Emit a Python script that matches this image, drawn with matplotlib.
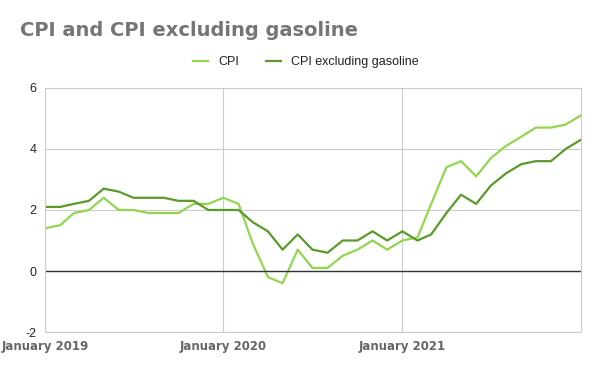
import numpy as np
import pandas as pd
import matplotlib.pyplot as plt

# monthly, January 2019 to January 2022
months = pd.date_range('2019-01-01', '2022-01-01', freq='MS')
cpi = [1.4, 1.5, 1.9, 2.0, 2.4, 2.0, 2.0, 1.9, 1.9, 1.9, 2.2, 2.2,
       2.4, 2.2, 0.9, -0.2, -0.4, 0.7, 0.1, 0.1, 0.5, 0.7, 1.0, 0.7,
       1.0, 1.1, 2.2, 3.4, 3.6, 3.1, 3.7, 4.1, 4.4, 4.7, 4.7, 4.8, 5.1]
cpi_ex_gas = [2.1, 2.1, 2.2, 2.3, 2.7, 2.6, 2.4, 2.4, 2.4, 2.3, 2.3, 2.0,
              2.0, 2.0, 1.6, 1.3, 0.7, 1.2, 0.7, 0.6, 1.0, 1.0, 1.3, 1.0,
              1.3, 1.0, 1.2, 1.9, 2.5, 2.2, 2.8, 3.2, 3.5, 3.6, 3.6, 4.0, 4.3]
tick_dates = pd.to_datetime(['2019-01-01', '2020-01-01', '2021-01-01'])
tick_labels = ['January 2019', 'January 2020', 'January 2021']
y_ticks = [-2, 0, 2, 4, 6]

plt.rcParams['font.family'] = ['Liberation Sans', 'DejaVu Sans']

fig = plt.figure(figsize=(6, 3.71), dpi=100)
ax = fig.add_axes([0.075, 0.105, 0.893, 0.658])

ax.plot(months, cpi, color='#92d650', lw=1.6, label='CPI')
ax.plot(months, cpi_ex_gas, color='#5a9a2a', lw=1.6, label='CPI excluding gasoline')

ax.set_xlim(months[0], months[-1])
ax.set_ylim(-2, 6)
ax.set_yticks(y_ticks)
ax.set_yticklabels([str(v) for v in y_ticks], fontsize=9, color='#222222')
ax.set_xticks(tick_dates)
ax.set_xticklabels(tick_labels, fontsize=8.5, fontweight='bold', color='#666666',
                   family='DejaVu Sans')
ax.tick_params(length=0)
ax.tick_params(axis='x', pad=6)
ax.tick_params(axis='y', pad=6)

ax.grid(True, color='#cccccc', lw=0.8)
ax.axhline(0, color='#333333', lw=1)
for s in ax.spines.values():
    s.set_color('#cccccc')
    s.set_linewidth(0.8)

fig.text(20 / 600, 1 - 31 / 371, 'CPI and CPI excluding gasoline', fontsize=14,
         fontweight='bold', color='#757575', va='center', ha='left',
         family='DejaVu Sans')
fig.legend(loc='center', bbox_to_anchor=(0.51, 1 - 62 / 371), ncol=2, frameon=False,
           fontsize=9, handlelength=1.2, handletextpad=0.8, columnspacing=2.2,
           labelcolor='#222222')

plt.savefig('out.png', dpi=100)
